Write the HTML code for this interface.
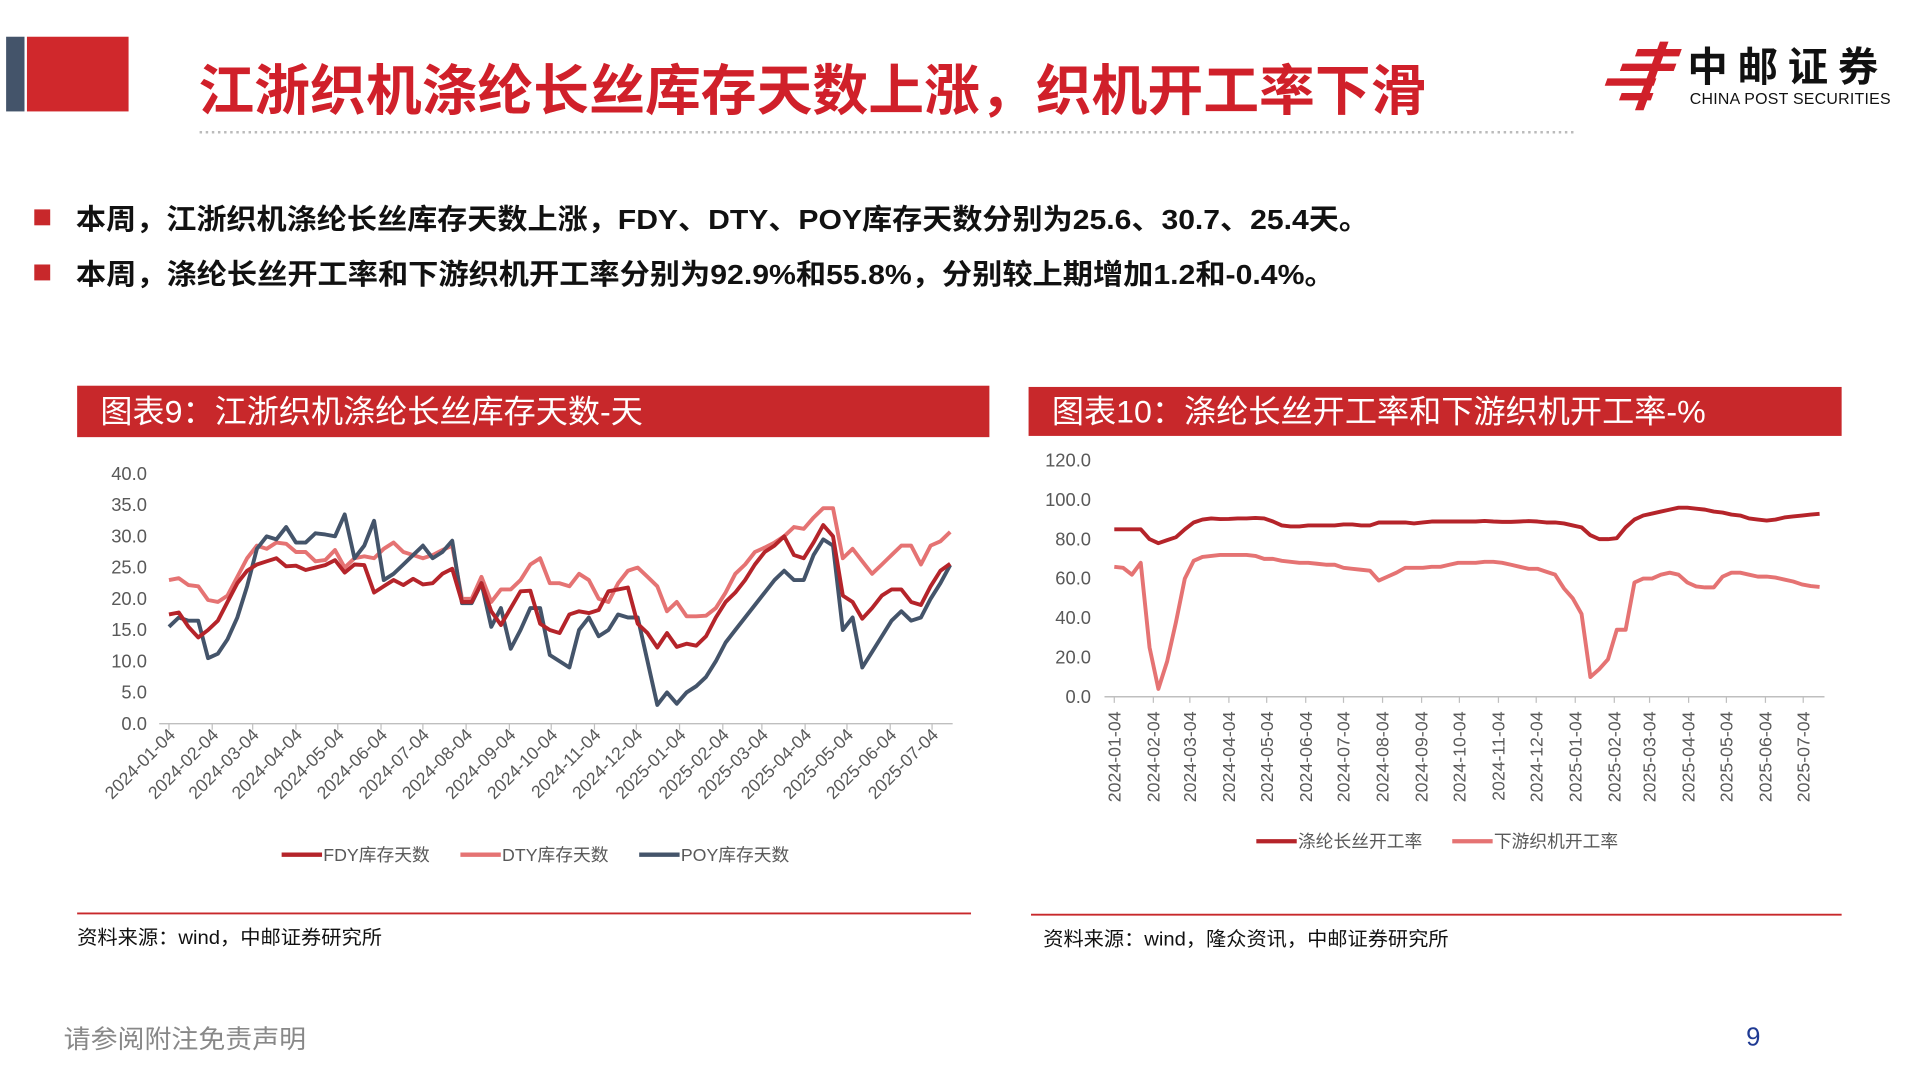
<!DOCTYPE html>
<html><head><meta charset="utf-8"><style>
html,body{margin:0;padding:0;background:#fff;width:1920px;height:1080px;overflow:hidden}
svg{display:block}
text{font-family:"Liberation Sans","Noto Sans CJK SC",sans-serif}
</style></head><body>
<svg id="page" width="1920" height="1080" viewBox="0 0 1568 882" xmlns="http://www.w3.org/2000/svg">
<rect x="0" y="0" width="1568" height="882" fill="#fff"/>
<g>
<rect x="5" y="30" width="15" height="61" fill="#44546a"/>
<rect x="22" y="30" width="83" height="61" fill="#d0282c"/>
<text x="162" y="90" font-size="45" font-weight="bold" fill="#d0202a" textLength="1003" lengthAdjust="spacingAndGlyphs">江浙织机涤纶长丝库存天数上涨，织机开工率下滑</text>
<line x1="163" y1="108" x2="1288" y2="108" stroke="#bbb" stroke-width="2" stroke-dasharray="2,3"/>
<g>
<g fill="#d0202a">
<rect x="1352" y="40" width="36" height="6" transform="skewX(-20)"/>
<rect x="1344" y="52" width="44" height="6" transform="skewX(-20)"/>
<rect x="1336" y="64" width="40" height="6" transform="skewX(-20)"/>
<rect x="1352" y="76" width="26" height="6" transform="skewX(-20)"/>
<rect x="1368" y="34" width="7" height="56" transform="skewX(-20)"/>
</g>
<text x="1378" y="66" font-size="33" font-weight="bold" fill="#111" letter-spacing="8">中邮证券</text>
<text x="1380" y="85" font-size="13" fill="#111" textLength="164">CHINA POST SECURITIES</text>
</g>
</g>
<g>
<rect x="28" y="171" width="13" height="13" fill="#c8282b"/>
<text x="62" y="187" font-size="23" font-weight="bold" fill="#111" textLength="1056" lengthAdjust="spacingAndGlyphs">本周，江浙织机涤纶长丝库存天数上涨，FDY、DTY、POY库存天数分别为25.6、30.7、25.4天。</text>
<rect x="28" y="216" width="13" height="13" fill="#c8282b"/>
<text x="62" y="232" font-size="23" font-weight="bold" fill="#111" textLength="1028" lengthAdjust="spacingAndGlyphs">本周，涤纶长丝开工率和下游织机开工率分别为92.9%和55.8%，分别较上期增加1.2和-0.4%。</text>
</g>
<g>
<rect x="63" y="315" width="745" height="42" fill="#c8282b"/>
<text x="82" y="345" font-size="26" fill="#fff" textLength="443" lengthAdjust="spacingAndGlyphs">图表9：江浙织机涤纶长丝库存天数-天</text>
</g>
<g>
<rect x="840" y="316" width="664" height="40" fill="#c8282b"/>
<text x="859" y="345" font-size="26" fill="#fff" textLength="534" lengthAdjust="spacingAndGlyphs">图表10：涤纶长丝开工率和下游织机开工率-%</text>
</g>
<g id="chart9"></g>
<g id="chart10"></g>
<g>
<line x1="63" y1="746" x2="793" y2="746" stroke="#c8282b" stroke-width="1.5"/>
<text x="63" y="771" font-size="16" fill="#111" textLength="249" lengthAdjust="spacingAndGlyphs">资料来源：wind，中邮证券研究所</text>
<line x1="842" y1="747" x2="1504" y2="747" stroke="#c8282b" stroke-width="1.5"/>
<text x="852" y="772" font-size="16" fill="#111" textLength="331" lengthAdjust="spacingAndGlyphs">资料来源：wind，隆众资讯，中邮证券研究所</text>
</g>
<text x="52" y="856" font-size="21" fill="#888" textLength="198" lengthAdjust="spacingAndGlyphs">请参阅附注免责声明</text>
<text x="1426" y="854" font-size="21" fill="#1f3a93">9</text>
</svg>
<script>
const monthLabels = ["2024-01-04","2024-02-04","2024-03-04","2024-04-04","2024-05-04","2024-06-04","2024-07-04","2024-08-04","2024-09-04","2024-10-04","2024-11-04","2024-12-04","2025-01-04","2025-02-04","2025-03-04","2025-04-04","2025-05-04","2025-06-04","2025-07-04"];
const startDate = "2024-01-04";
const fdy = [17.5,17.8,15.5,13.8,15,16.5,19.5,22.5,24.5,25.5,26,26.5,25.2,25.3,24.6,25,25.4,26.2,24.2,25.5,25.4,21,22,23,22.2,23.2,22.3,22.5,24,24.8,19.5,19.5,22.5,18,15.8,18.5,21.2,21.3,16,15,14.5,17.5,18,17.7,18.2,21.2,21.5,21.8,16,14.5,12.2,14.5,12.3,12.8,12.5,14,17,19.5,21,23,25.5,27.5,28.5,30,27,26.5,29,31.8,30,20.5,19.5,16.8,18.5,20.5,21.5,21.5,19.5,19,22,24.5,25.6];
const dty = [23,23.3,22.2,22,19.8,19.5,20.5,23.5,26.5,28.5,28,29,28.8,27.5,27.5,26,26.2,27.8,25,26.5,26.8,26.5,28,29,27.5,27,26.5,27,27.8,28.5,20,20,23.5,19.5,21.5,21.5,23,25.5,26.5,22.5,22.5,22,24,23,20,19.5,22.5,24.5,25,23.5,22,18,19.5,17.2,17.2,17.3,18.5,21,24,25.5,27.5,28.2,29,30,31.5,31.2,33,34.5,34.5,26.5,28,26,24,25.5,27,28.5,28.5,25.5,28.5,29.2,30.7];
const poy = [15.5,17,16.5,16.5,10.5,11.2,13.5,17,22,28,30,29.5,31.5,29,29,30.5,30.3,30,33.5,26.5,28.5,32.5,23,24,25.5,27,28.5,26.5,27.5,29.3,19.3,19.3,22.5,15.5,18.5,12,15,18.5,18.5,11,10,9,15,17,14,15,17.5,17,17,10,3,5,3.2,5,6,7.5,10,13,15,17,19,21,23,24.5,23,23,27,29.5,28.5,15,17,9,11.5,14,16.5,18,16.5,17,20,22.5,25.4];
const yTicks9 = [0,5,10,15,20,25,30,35,40];
const polyRate = [85,85,85,85,80,78,79.5,81,85,88.5,90,90.5,90.2,90.3,90.5,90.5,90.8,90.5,89,87,86.5,86.5,87,87,87,87,87.5,87.5,87,87,88.5,88.5,88.5,88.5,88,88.5,89,89,89,89,89,89,89.3,89,88.8,88.8,89,89.2,89,88.5,88.5,88,87,86,82,80,80,80.5,86,90,92,93,94,95,96,96,95.5,95,94,93.5,92.5,92,90.5,90,89.5,90,91,91.5,92,92.5,92.9];
const weaveRate = [66,65.5,62,68,25,4,18,38,60,69,71,71.5,72,72,72,72,71.5,70,70,69,68.5,68,68,67.5,67,67,65.5,65,64.5,64,59,61,63,65.5,65.5,65.5,66,66,67,68,68,68,68.5,68.5,68,67,66,65,65,63.5,62,55,50,42,10,14,19,34,34,58,60,60,62,63,62,58,56,55.5,55.5,61,63,63,62,61,61,60.5,59.5,58.5,57,56.2,55.8];
const yTicks10 = [0,20,40,60,80,100,120];

const NS="http://www.w3.org/2000/svg";
function mk(tag, attrs, parent){const e=document.createElementNS(NS,tag);for(const k in attrs)e.setAttribute(k,attrs[k]);parent.appendChild(e);return e;}
function days(d){return (Date.parse(d)-Date.parse(startDate))/86400000;}

function drawChart(g, cfg){
  const xs = d => cfg.x0 + d*cfg.pxPerDay;
  const xi = i => xs(i*7);
  const ys = v => cfg.y0 - (v-cfg.ymin)/(cfg.ymax-cfg.ymin)*(cfg.y0-cfg.y1);
  cfg.yTicks.forEach(t=>{
    const tx=mk('text',{x:cfg.yLabelX,y:ys(t)+5,'font-size':15,fill:'#595959','text-anchor':'end'},g);
    
    
    tx.textContent=t.toFixed(1);
  });
  const ax=mk('line',{x1:cfg.axL,y1:cfg.y0,x2:cfg.axR,y2:cfg.y0,stroke:'#bfbfbf','stroke-width':1.2},g);
  
  
  monthLabels.forEach(m=>{
    const x=xs(days(m));
    mk('line',{x1:x,y1:cfg.y0,x2:x,y2:cfg.y0+5,stroke:'#bfbfbf'},g);
    const ly=cfg.y0+cfg.labelDy;
    const tx=mk('text',{x:x+cfg.labelDx,y:ly,'font-size':14.5,fill:'#595959','text-anchor':'end',transform:`rotate(${cfg.rot} ${x+cfg.labelDx} ${ly})`},g);
    if(cfg.rot===-90) tx.setAttribute('dy','5');
    
    
    tx.textContent=m;
  });
  cfg.series.forEach(s=>{
    const d=s.data.map((v,i)=>(i?'L':'M')+xi(i).toFixed(1)+' '+ys(v).toFixed(1)).join(' ');
    const p=mk('path',{d:d,fill:'none',stroke:s.color,'stroke-width':3.2,'stroke-linejoin':'round'},g);
    
    
  });
  cfg.series.forEach(s=>{
    const lx=cfg.legendX+s.legendPos*cfg.legendGap;
    const l=mk('line',{x1:lx,y1:cfg.legendY,x2:lx+33,y2:cfg.legendY,stroke:s.color,'stroke-width':3.5},g);
    
    
    const t=mk('text',{x:lx+34,y:cfg.legendY+5,'font-size':14.5,fill:'#595959'},g);
    
    
    t.textContent=s.label;
  });
}
drawChart(document.getElementById('chart9'),{
  x0:138,pxPerDay:638/560,y0:591,y1:387,ymin:0,ymax:40,yTicks:yTicks9,yLabelX:120,axL:130,axR:778,
  labelDy:10,labelDx:6,rot:-45,legendX:230,legendY:698,legendGap:146,
  series:[{name:'dty',label:'DTY库存天数',color:'#e57373',data:dty,legendPos:1},
          {name:'poy',label:'POY库存天数',color:'#44546a',data:poy,legendPos:2},
          {name:'fdy',label:'FDY库存天数',color:'#b5242a',data:fdy,legendPos:0}]
});
drawChart(document.getElementById('chart10'),{
  x0:910,pxPerDay:576/560,y0:569,y1:376,ymin:0,ymax:120,yTicks:yTicks10,yLabelX:891,axL:902,axR:1490,
  labelDy:12,labelDx:0,rot:-90,legendX:1026,legendY:687,legendGap:160,
  series:[{name:'polyester-rate',label:'涤纶长丝开工率',color:'#b5242a',data:polyRate,legendPos:0},
          {name:'weaving-rate',label:'下游织机开工率',color:'#e57373',data:weaveRate,legendPos:1}]
});
</script>
</body></html>
